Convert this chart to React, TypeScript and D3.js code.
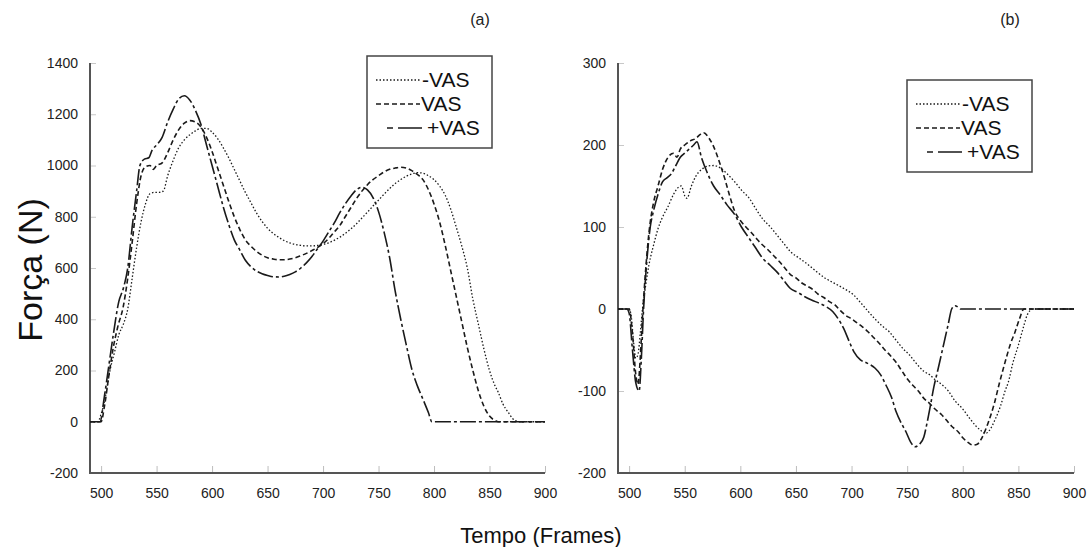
import React, { useEffect, useRef } from 'react';
import * as d3 from 'd3';

// (a) Força vertical — frames / N
const forceMinus: [number, number][] = [
  [490, 0], [497, 0], [500, 30], [504, 100], [508, 200], [512, 270], [516, 340], [520, 380], [524, 440],
  [528, 560], [532, 680], [536, 780], [540, 850], [544, 890], [548, 895], [552, 895], [556, 900],
  [560, 960], [565, 1020], [570, 1070], [575, 1100], [580, 1120], [585, 1135], [590, 1145], [595, 1145],
  [600, 1130], [605, 1105], [610, 1070], [615, 1030], [620, 985], [625, 940], [630, 895], [635, 855],
  [640, 815], [645, 782], [650, 755], [655, 735], [660, 720], [665, 707], [670, 698], [675, 692],
  [680, 688], [685, 686], [690, 686], [695, 688], [700, 692], [705, 698], [710, 708], [715, 720],
  [720, 735], [725, 752], [730, 772], [735, 795], [740, 818], [745, 842], [750, 865], [755, 888],
  [760, 910], [765, 930], [770, 945], [775, 958], [780, 967], [785, 972], [790, 970], [795, 960],
  [800, 945], [805, 920], [810, 885], [815, 830], [820, 760], [825, 686], [830, 600], [835, 478],
  [840, 380], [845, 283], [850, 200], [855, 140], [858, 114], [862, 70], [867, 36], [871, 12],
  [875, 2], [878, 0], [900, 0]
];
const forceVas: [number, number][] = [
  [490, 0], [500, 0], [503, 60], [507, 180], [511, 290], [515, 370], [520, 450], [524, 560], [528, 700],
  [532, 850], [536, 960], [540, 995], [544, 1000], [547, 985], [550, 1000], [555, 1010], [560, 1050],
  [565, 1100], [570, 1140], [575, 1165], [580, 1175], [585, 1170], [590, 1150], [595, 1110], [600, 1055],
  [605, 990], [610, 925], [615, 860], [620, 800], [625, 750], [630, 710], [635, 685], [640, 665],
  [645, 650], [650, 640], [655, 635], [660, 632], [665, 632], [670, 635], [675, 640], [680, 648],
  [685, 657], [690, 668], [695, 680], [700, 695], [705, 715], [710, 740], [715, 765], [720, 800],
  [725, 835], [730, 870], [735, 900], [740, 925], [745, 945], [750, 960], [755, 975], [760, 985],
  [765, 990], [770, 993], [775, 990], [780, 980], [785, 965], [790, 945], [795, 905], [800, 850],
  [805, 780], [810, 690], [815, 590], [820, 490], [825, 390], [830, 290], [835, 200], [840, 120],
  [845, 60], [850, 22], [855, 5], [858, 0], [900, 0]
];
const forcePlus: [number, number][] = [
  [490, 0], [499, 0], [503, 100], [507, 220], [511, 340], [516, 470], [520, 520], [524, 600], [528, 760],
  [532, 900], [535, 1000], [539, 1025], [543, 1030], [546, 1060], [550, 1080], [555, 1110], [560, 1170],
  [565, 1220], [570, 1260], [575, 1272], [580, 1255], [585, 1215], [590, 1160], [595, 1080], [600, 1000],
  [605, 920], [610, 840], [615, 770], [620, 710], [625, 670], [630, 630], [635, 605], [640, 588],
  [645, 578], [650, 571], [655, 566], [660, 565], [665, 568], [670, 575], [675, 585], [680, 600],
  [685, 620], [690, 645], [695, 675], [700, 705], [705, 740], [710, 775], [715, 815], [720, 850],
  [725, 880], [730, 905], [735, 915], [740, 905], [745, 875], [750, 820], [755, 740], [760, 640],
  [765, 510], [770, 400], [775, 300], [780, 205], [785, 140], [790, 88], [795, 35], [798, 0], [900, 0]
];

// (b) Força antero-posterior
const apMinus: [number, number][] = [
  [490, 0], [500, 0], [502, -10], [504, -40], [506, -60], [508, -55], [510, -30], [512, 0], [515, 30],
  [518, 55], [522, 78], [526, 98], [530, 112], [535, 125], [540, 140], [544, 148], [547, 150], [550, 138],
  [552, 135], [556, 150], [560, 162], [565, 170], [570, 174], [576, 175], [582, 172], [588, 165],
  [595, 155], [601, 145], [608, 135], [614, 122], [620, 110], [627, 100], [633, 90], [639, 80],
  [645, 70], [653, 62], [661, 54], [669, 45], [677, 37], [685, 31], [693, 25], [702, 17], [708, 8],
  [715, -3], [721, -12], [727, -20], [734, -28], [740, -38], [746, -48], [752, -56], [758, -66],
  [765, -76], [770, -80], [775, -86], [781, -92], [787, -100], [793, -112], [800, -122], [806, -133],
  [812, -143], [817, -149], [820, -152], [824, -148], [829, -135], [834, -118], [838, -100], [841, -89],
  [845, -66], [850, -44], [855, -20], [858, -7], [863, 0], [900, 0]
];
const apVas: [number, number][] = [
  [490, 0], [500, 0], [503, -30], [506, -80], [508, -92], [510, -60], [512, -10], [515, 50], [518, 95],
  [522, 130], [526, 150], [530, 170], [535, 185], [540, 190], [543, 185], [546, 195], [550, 200],
  [555, 205], [560, 208], [564, 213], [567, 215], [572, 208], [576, 198], [581, 180], [586, 159],
  [590, 140], [595, 119], [600, 108], [605, 100], [610, 93], [615, 85], [620, 78], [625, 72], [630, 65],
  [635, 58], [640, 50], [645, 42], [650, 38], [655, 32], [660, 28], [665, 24], [670, 18], [675, 14],
  [680, 9], [685, 5], [690, -2], [695, -8], [700, -12], [705, -17], [710, -22], [715, -28], [720, -35],
  [725, -42], [730, -50], [735, -57], [740, -65], [745, -75], [750, -85], [755, -93], [760, -100],
  [765, -109], [770, -115], [775, -122], [781, -129], [785, -135], [790, -143], [796, -150], [800, -157],
  [805, -163], [809, -166], [813, -165], [816, -160], [819, -152], [823, -138], [828, -117], [833, -90],
  [838, -65], [843, -42], [847, -28], [851, -12], [855, 0], [900, 0]
];
const apPlus: [number, number][] = [
  [490, 0], [498, 0], [500, -5], [503, -50], [506, -90], [509, -100], [511, -60], [513, 0], [516, 60],
  [519, 100], [522, 120], [526, 140], [530, 155], [534, 160], [538, 165], [542, 175], [546, 185],
  [550, 190], [554, 195], [558, 200], [561, 204], [565, 185], [570, 167], [576, 150], [582, 139],
  [588, 127], [595, 115], [601, 100], [608, 86], [614, 74], [620, 62], [627, 53], [633, 45], [639, 35],
  [645, 25], [652, 20], [658, 15], [664, 11], [671, 7], [677, 3], [683, -3], [688, -12], [693, -24],
  [698, -40], [702, -52], [708, -62], [714, -66], [721, -72], [726, -80], [731, -93], [736, -108],
  [740, -125], [745, -140], [749, -150], [753, -162], [757, -168], [761, -165], [765, -156], [768, -138],
  [771, -117], [774, -95], [778, -72], [781, -54], [784, -36], [787, -18], [790, 0], [793, 4], [796, 2],
  [798, 0], [900, 0]
];

const xTicks = [500, 550, 600, 650, 700, 750, 800, 850, 900];
const yTicksA = [-200, 0, 200, 400, 600, 800, 1000, 1200, 1400];
const yTicksB = [-200, -100, 0, 100, 200, 300];
const seriesNames = ['-VAS', 'VAS', '+VAS'];

const dashes = ['1.5,2', '5,3', '16,3,3,3'];
const font = '"Liberation Sans", Arial, sans-serif';

const App = () => {
  const svgRef = useRef<SVGSVGElement>(null);

  useEffect(() => {
    const svg = d3.select(svgRef.current);
    svg.selectAll('*').remove();

    const drawPanel = (left: number, right: number, yDomain: [number, number], yTicks: number[],
      series: [number, number][][], title: string, titleX: number, legendX: number, legendY: number) => {
      const top = 63, bottom = 473;
      const x = d3.scaleLinear().domain([490, 900]).range([left, right]);
      const y = d3.scaleLinear().domain(yDomain).range([bottom, top]);
      const g = svg.append('g');

      // ticks point inside the plot
      const xAxis = g.append('g')
        .attr('transform', `translate(0,${bottom})`)
        .call(d3.axisBottom(x).tickValues(xTicks).tickFormat(d => String(d))
          .tickSizeInner(-7).tickSizeOuter(0).tickPadding(15));
      xAxis.select('.domain').remove();
      xAxis.selectAll('line').attr('stroke', '#bdbdbd');
      xAxis.selectAll('text').attr('font-family', font).attr('font-size', 14).attr('fill', '#222');

      const yAxis = g.append('g')
        .attr('transform', `translate(${left},0)`)
        .call(d3.axisLeft(y).tickValues(yTicks).tickFormat(d => String(d))
          .tickSizeInner(-6).tickSizeOuter(0).tickPadding(12));
      yAxis.select('.domain').remove();
      yAxis.selectAll('line').attr('stroke', '#c8c8c8');
      yAxis.selectAll('text').attr('font-family', font).attr('font-size', 14).attr('fill', '#222');

      g.append('path')
        .attr('d', `M${left},${top}V${bottom}H${right}`)
        .attr('fill', 'none')
        .attr('stroke', '#555')
        .attr('stroke-width', 2);

      const line = d3.line<[number, number]>()
        .x(d => x(d[0]))
        .y(d => y(d[1]))
        .curve(d3.curveMonotoneX);

      series.forEach((s, i) => {
        g.append('path')
          .datum(s)
          .attr('d', line)
          .attr('fill', 'none')
          .attr('stroke', '#1a1a1a')
          .attr('stroke-width', i === 0 ? 1.3 : 1.6)
          .attr('stroke-dasharray', dashes[i]);
      });

      g.append('text')
        .attr('x', titleX)
        .attr('y', 25)
        .attr('text-anchor', 'middle')
        .attr('font-family', font)
        .attr('font-size', 16)
        .attr('fill', '#222')
        .text(title);

      // legend
      const lg = g.append('g').attr('transform', `translate(${legendX},${legendY})`);
      lg.append('rect')
        .attr('width', 125)
        .attr('height', 92)
        .attr('fill', 'white')
        .attr('stroke', '#444')
        .attr('stroke-width', 1.5);
      const rows = [31, 55, 79];
      const legendDash = ['1.5,2', '5,3', '6,5,24'];
      const lineStart = [9, 9, 20];
      const lineEnd = [53, 53, 58];
      const textX = [55, 54, 60];
      seriesNames.forEach((name, i) => {
        lg.append('line')
          .attr('x1', lineStart[i])
          .attr('x2', lineEnd[i])
          .attr('y1', rows[i] - 7)
          .attr('y2', rows[i] - 7)
          .attr('stroke', '#1a1a1a')
          .attr('stroke-width', i === 0 ? 1.3 : 1.6)
          .attr('stroke-dasharray', legendDash[i]);
        lg.append('text')
          .attr('x', textX[i])
          .attr('y', rows[i])
          .attr('font-family', font)
          .attr('font-size', 21)
          .attr('fill', '#111')
          .text(name);
      });
    };

    drawPanel(90, 545, [-200, 1400], yTicksA, [forceMinus, forceVas, forcePlus], '(a)', 480, 367, 56);
    drawPanel(618, 1074, [-200, 300], yTicksB, [apMinus, apVas, apPlus], '(b)', 1010, 907, 80);

    svg.append('text')
      .attr('transform', 'translate(42,270) rotate(-90)')
      .attr('text-anchor', 'middle')
      .attr('font-family', font)
      .attr('font-size', 34)
      .attr('fill', '#111')
      .text('Força (N)');

    svg.append('text')
      .attr('x', 541)
      .attr('y', 543)
      .attr('text-anchor', 'middle')
      .attr('font-family', font)
      .attr('font-size', 22)
      .attr('fill', '#111')
      .text('Tempo (Frames)');
  }, []);

  return (
    <div style={{ position: 'absolute', left: 0, top: 0 }}>
      <svg ref={svgRef} width={1087} height={547} style={{ display: 'block', background: 'white' }} />
    </div>
  );
};

export default App;
